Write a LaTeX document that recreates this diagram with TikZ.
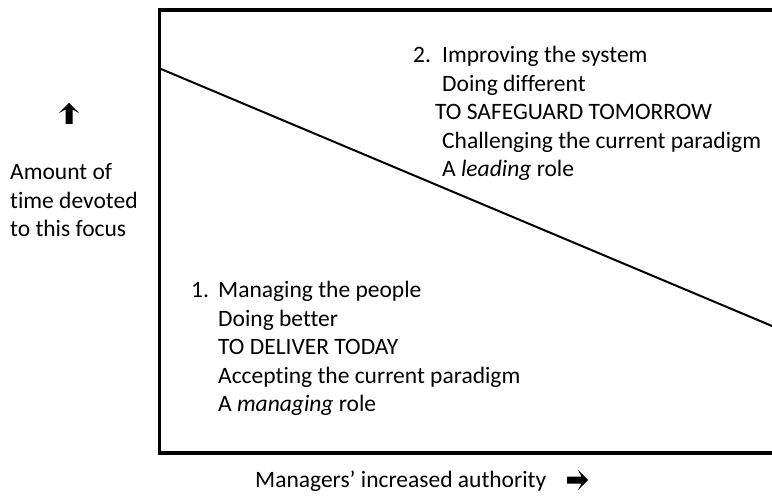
\documentclass[tikz,border=0pt]{standalone}
\usepackage{fontspec}
\setmainfont{Carlito}[Ligatures={NoCommon}]
\begin{document}
\begin{tikzpicture}[x=1pt,y=-1pt,
  txt/.style={anchor=base west,inner sep=0pt,font=\fontsize{23.5}{28.5}\selectfont},
  frame/.style={line width=3.5pt},
  divide/.style={line width=2pt},
  bigarrow/.style={fill=black}]
\useasboundingbox (0,0) rectangle (772,497);
% frame (open to the right)
\coordinate (tr) at (772,10);
\coordinate (tl) at (159.5,10);
\coordinate (bl) at (159.5,453);
\coordinate (br) at (772,453);
\draw[frame] (tr) -- (tl) -- (bl) -- (br);
% dividing line
\coordinate (d1) at (161,69);
\coordinate (d2) at (772,326);
\draw[divide] (d1) -- (d2);
% upper block
\node[txt] (n2) at (413,63) {2.};
\node[txt] (u1) at (442,63) {Improving the system};
\node[txt] (u2) at (442,91.5) {Doing different};
\node[txt] (u3) at (435,120) {TO SAFEGUARD TOMORROW};
\node[txt] (u4) at (442,148.5) {Challenging the current paradigm};
\node[txt] (u5) at (442,177) {A \textit{leading} role};
% lower block
\node[txt] (n1) at (191,298) {1.};
\node[txt] (l1) at (218,298) {Managing the people};
\node[txt] (l2) at (218,326.5) {Doing better};
\node[txt] (l3) at (218,355) {TO DELIVER TODAY};
\node[txt] (l4) at (218,383.5) {Accepting the current paradigm};
\node[txt] (l5) at (218,412) {A \textit{managing} role};
% vertical axis label
\fill[bigarrow] (69,103) -- (79,113) -- (72.5,109.5) -- (72.5,124) -- (65.5,124) -- (65.5,109.5) -- (59,113) -- cycle;
\node[txt] (y1) at (10,180) {Amount of};
\node[txt] (y2) at (10,208.5) {time devoted};
\node[txt] (y3) at (10,237) {to this focus};
% horizontal axis label
\node[txt] (x1) at (255,487) {Managers’ increased authority};
\fill[bigarrow] (588,480) -- (578,490) -- (581.5,483.5) -- (567,483.5) -- (567,476.5) -- (581.5,476.5) -- (578,470) -- cycle;
\end{tikzpicture}
\end{document}
